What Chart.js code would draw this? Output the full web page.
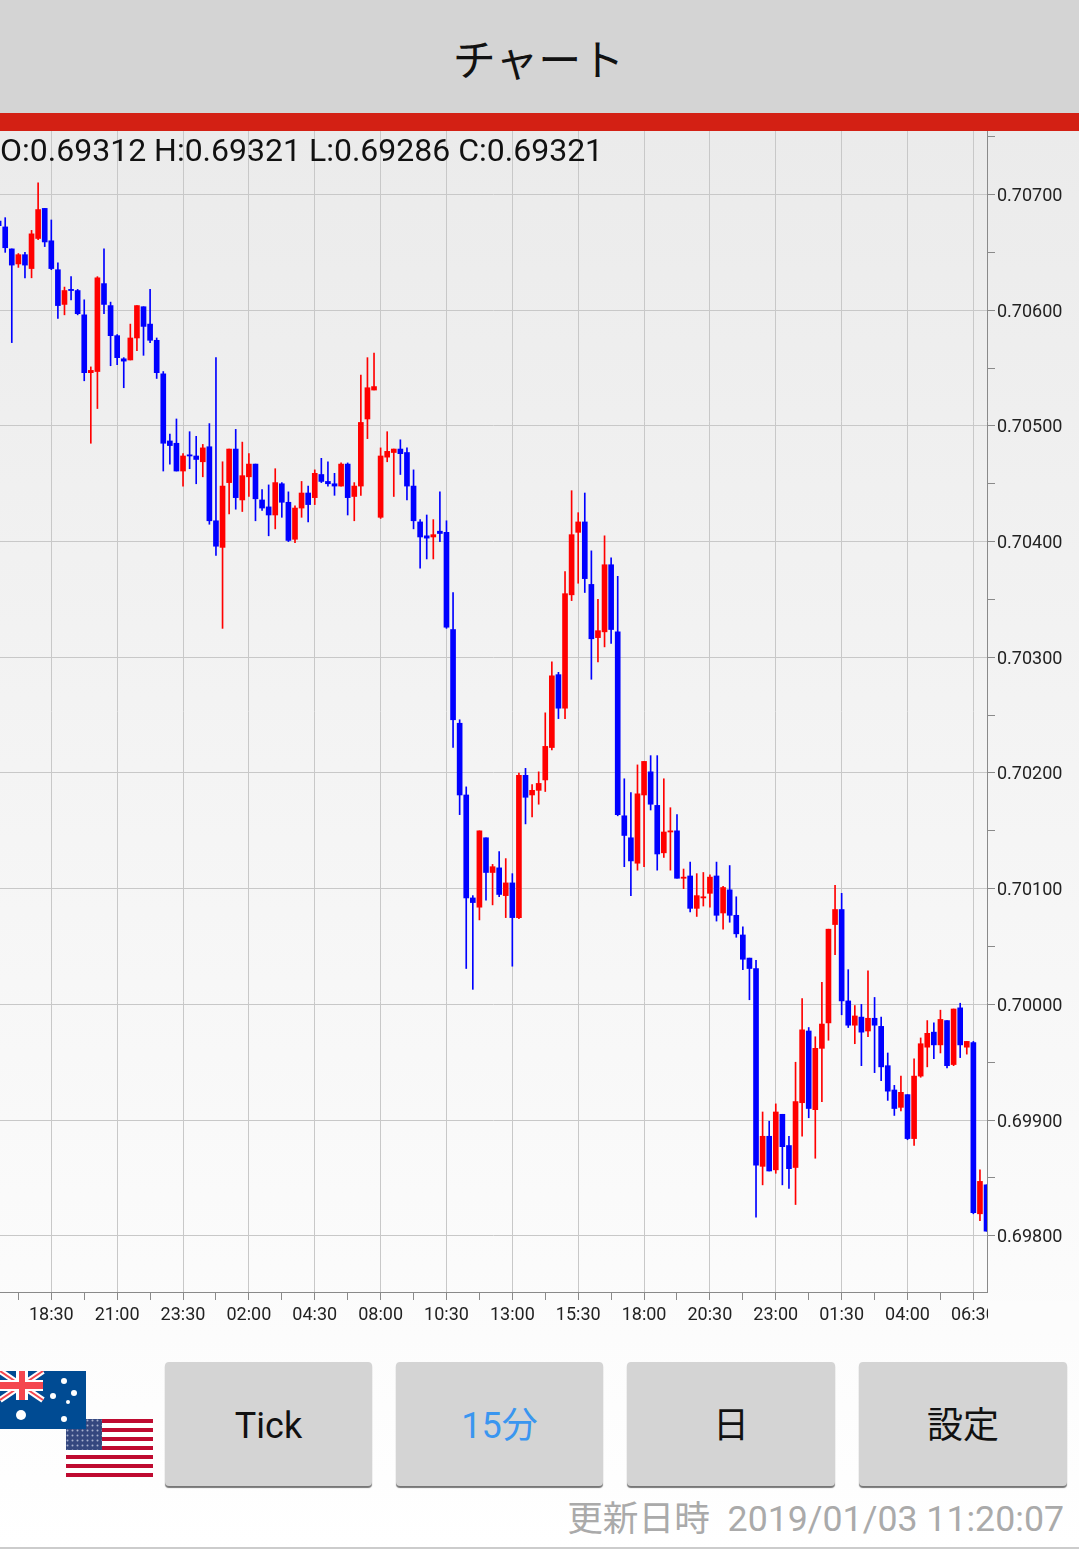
<!DOCTYPE html>
<html lang="ja">
<head>
<meta charset="UTF-8">
<title>チャート</title>
<script src="https://cdn.jsdelivr.net/npm/chart.js"></script>
<style>
  html, body { margin: 0; padding: 0; }
  body {
    position: relative; width: 1079px; height: 1549px; overflow: hidden;
    background: linear-gradient(#ebebeb 131px, #ffffff 1549px);
    font-family: Roboto, "Noto Sans CJK JP", sans-serif; color: #111;
  }
  #title {
    position: absolute; left: 0; top: 0; width: 1077px; height: 113px; line-height: 115px;
    padding-right: 2px; background: #d4d4d4; text-align: center; font-size: 43px;
    font-family: "Noto Sans CJK JP", sans-serif;
  }
  #redbar { position: absolute; left: 0; top: 113px; width: 1079px; height: 18px; background: #d32014; }
  #chartBox { position: absolute; left: 0; top: 131px; width: 1079px; height: 1219px; }
  #ohlc { position: absolute; left: 0; top: 131px; font-size: 32px; line-height: 38px; white-space: nowrap; }
  #clipEdge { position: absolute; left: 988px; top: 1301px; width: 91px; height: 30px; background: #fcfcfc; }
  .btn {
    position: absolute; top: 1362px; height: 124px; line-height: 128px; text-align: center;
    background: #d4d4d4; border-radius: 4px; box-shadow: 0 2px 1px #777; font-size: 36px; color: #111;
  }
  #updated {
    position: absolute; right: 15px; top: 1497px; font-size: 35.7px; line-height: 44px;
    color: #aaa; white-space: pre;
  }
  #bottomLine { position: absolute; left: 0; top: 1547px; width: 1079px; height: 2px; background: #ccc; }
  svg { position: absolute; }
</style>
</head>
<body>
<div id="title">チャート</div>
<div id="redbar"></div>
<div id="chartBox"><canvas id="candles" width="1079" height="1219"></canvas></div>
<div id="ohlc">O:0.69312 H:0.69321 L:0.69286 C:0.69321</div>
<div id="clipEdge"></div>

<!-- flags -->
<svg style="left:66px;top:1419px" width="87" height="58" viewBox="0 0 87 58">
  <defs>
    <pattern id="usStars" width="5" height="5" patternUnits="userSpaceOnUse">
      <rect width="5" height="5" fill="#34477f"/>
      <circle cx="1.5" cy="1.5" r="1" fill="#a9b2cf"/>
    </pattern>
  </defs>
  <rect width="87" height="58" fill="#fff"/>
  <g fill="#bf0a30">
    <rect y="0" width="87" height="4"/><rect y="9" width="87" height="4"/><rect y="18" width="87" height="4"/>
    <rect y="27" width="87" height="4"/><rect y="36" width="87" height="4"/><rect y="45" width="87" height="4"/>
    <rect y="54" width="87" height="4"/>
  </g>
  <rect width="36" height="31" fill="url(#usStars)"/>
</svg>
<svg style="left:0;top:1371px" width="86" height="58" viewBox="0 0 86 58">
  <rect width="86" height="58" fill="#004b93"/>
  <g stroke="#fff" stroke-width="6"><line x1="0" y1="0" x2="43" y2="29"/><line x1="43" y1="0" x2="0" y2="29"/></g>
  <g stroke="#f4474f" stroke-width="2"><line x1="0" y1="0" x2="43" y2="29"/><line x1="43" y1="0" x2="0" y2="29"/></g>
  <rect x="16" y="0" width="12" height="29" fill="#fff"/><rect x="0" y="9" width="43" height="11" fill="#fff"/>
  <rect x="19" y="0" width="6" height="29" fill="#f4474f"/><rect x="0" y="11" width="43" height="7" fill="#f4474f"/>
  <g fill="#fff">
    <circle cx="64" cy="10" r="3"/><circle cx="74" cy="22" r="3"/><circle cx="53" cy="25" r="3"/>
    <circle cx="68" cy="31" r="2"/><circle cx="64" cy="48" r="3"/><circle cx="21" cy="44" r="5"/>
  </g>
</svg>

<div class="btn" style="left:165px;width:207px">Tick</div>
<div class="btn" style="left:396px;width:207px;color:#3a96f0">15分</div>
<div class="btn" style="left:627px;width:208px">日</div>
<div class="btn" style="left:859px;width:208px">設定</div>
<div id="updated">更新日時  2019/01/03 11:20:07</div>
<div id="bottomLine"></div>

<script>
// 15 minute candles, AUD/USD
const highs = [
  0.70677,0.70680,0.70653,0.70649,0.70650,0.70669,0.70710,0.70688,0.70678,0.70641,
  0.70620,0.70629,0.70618,0.70609,0.70551,0.70629,0.70653,0.70607,0.70579,0.70559,
  0.70588,0.70604,0.70603,0.70618,0.70576,0.70547,0.70493,0.70506,0.70476,0.70495,
  0.70491,0.70484,0.70502,0.70559,0.70469,0.70480,0.70497,0.70486,0.70476,0.70467,
  0.70445,0.70449,0.70463,0.70451,0.70443,0.70431,0.70452,0.70448,0.70462,0.70472,
  0.70469,0.70459,0.70468,0.70468,0.70451,0.70544,0.70559,0.70563,0.70481,0.70495,
  0.70480,0.70488,0.70481,0.70462,0.70419,0.70423,0.70419,0.70443,0.70418,0.70356,
  0.70246,0.70188,0.70094,0.70150,0.70144,0.70121,0.70132,0.70126,0.70113,0.70200,
  0.70204,0.70190,0.70201,0.70252,0.70296,0.70287,0.70374,0.70444,0.70425,0.70442,
  0.70392,0.70350,0.70405,0.70386,0.70370,0.70195,0.70183,0.70207,0.70210,0.70215,
  0.70215,0.70195,0.70170,0.70164,0.70117,0.70123,0.70113,0.70114,0.70112,0.70123,
  0.70102,0.70120,0.70093,0.70067,0.70040,0.70038,0.69907,0.69899,0.69914,0.69905,
  0.69886,0.69950,0.70005,0.69980,0.69972,0.70019,0.70065,0.70103,0.70096,0.70030,
  0.69999,0.70000,0.70029,0.70006,0.69989,0.69958,0.69930,0.69938,0.69922,0.69953,
  0.69971,0.69986,0.69984,0.69995,0.69986,0.69996,0.70001,0.69968,0.69968,0.69857,
  0.69844
];
const lows = [
  0.70673,0.70650,0.70572,0.70637,0.70628,0.70628,0.70661,0.70655,0.70635,0.70593,
  0.70596,0.70609,0.70596,0.70539,0.70485,0.70515,0.70597,0.70552,0.70553,0.70533,
  0.70557,0.70565,0.70561,0.70572,0.70541,0.70461,0.70467,0.70461,0.70448,0.70463,
  0.70450,0.70456,0.70415,0.70388,0.70325,0.70424,0.70428,0.70426,0.70439,0.70418,
  0.70427,0.70405,0.70411,0.70421,0.70400,0.70399,0.70421,0.70417,0.70432,0.70451,
  0.70448,0.70440,0.70448,0.70423,0.70418,0.70440,0.70489,0.70531,0.70420,0.70469,
  0.70439,0.70458,0.70436,0.70411,0.70377,0.70385,0.70385,0.70400,0.70325,0.70222,
  0.70164,0.70031,0.70013,0.70073,0.70090,0.70086,0.70093,0.70075,0.70033,0.70074,
  0.70156,0.70162,0.70173,0.70184,0.70220,0.70247,0.70247,0.70349,0.70364,0.70356,
  0.70281,0.70296,0.70309,0.70312,0.70163,0.70119,0.70094,0.70116,0.70119,0.70168,
  0.70116,0.70127,0.70116,0.70109,0.70100,0.70080,0.70076,0.70085,0.70084,0.70072,
  0.70065,0.70071,0.70058,0.70030,0.70004,0.69816,0.69844,0.69856,0.69854,0.69844,
  0.69841,0.69827,0.69886,0.69902,0.69867,0.69916,0.69969,0.70043,0.69991,0.69980,
  0.69966,0.69947,0.69972,0.69941,0.69934,0.69917,0.69904,0.69908,0.69883,0.69878,
  0.69937,0.69946,0.69953,0.69958,0.69945,0.69947,0.69954,0.69957,0.69819,0.69813,
  0.69804
];
const opens = [
  0.70677,0.70672,0.70653,0.70640,0.70648,0.70636,0.70662,0.70688,0.70660,0.70635,
  0.70605,0.70618,0.70617,0.70596,0.70546,0.70547,0.70623,0.70604,0.70578,0.70558,
  0.70557,0.70576,0.70603,0.70588,0.70574,0.70545,0.70487,0.70485,0.70461,0.70475,
  0.70474,0.70469,0.70482,0.70418,0.70395,0.70451,0.70480,0.70436,0.70456,0.70467,
  0.70436,0.70430,0.70423,0.70450,0.70434,0.70402,0.70429,0.70442,0.70438,0.70458,
  0.70452,0.70450,0.70448,0.70467,0.70439,0.70448,0.70506,0.70531,0.70421,0.70473,
  0.70477,0.70480,0.70477,0.70448,0.70417,0.70405,0.70404,0.70409,0.70408,0.70324,
  0.70243,0.70181,0.70092,0.70084,0.70144,0.70114,0.70118,0.70094,0.70105,0.70075,
  0.70198,0.70181,0.70185,0.70194,0.70222,0.70285,0.70256,0.70354,0.70408,0.70417,
  0.70363,0.70317,0.70322,0.70380,0.70322,0.70163,0.70144,0.70122,0.70181,0.70201,
  0.70172,0.70131,0.70149,0.70150,0.70109,0.70111,0.70083,0.70092,0.70096,0.70111,
  0.70079,0.70099,0.70077,0.70060,0.70040,0.70031,0.69860,0.69886,0.69857,0.69905,
  0.69878,0.69859,0.69915,0.69977,0.69909,0.69962,0.69984,0.70069,0.70082,0.70003,
  0.69982,0.69989,0.69977,0.69988,0.69981,0.69947,0.69926,0.69911,0.69922,0.69884,
  0.69938,0.69963,0.69976,0.69965,0.69986,0.69948,0.69997,0.69963,0.69967,0.69819,
  0.69844
];
const closes = [
  0.70673,0.70654,0.70639,0.70648,0.70639,0.70666,0.70687,0.70659,0.70636,0.70604,
  0.70617,0.70617,0.70597,0.70546,0.70548,0.70628,0.70605,0.70578,0.70559,0.70556,
  0.70576,0.70604,0.70586,0.70574,0.70546,0.70485,0.70483,0.70461,0.70474,0.70474,
  0.70471,0.70481,0.70418,0.70396,0.70448,0.70480,0.70438,0.70457,0.70467,0.70437,
  0.70429,0.70423,0.70451,0.70434,0.70401,0.70429,0.70442,0.70432,0.70459,0.70452,
  0.70450,0.70448,0.70467,0.70438,0.70448,0.70503,0.70533,0.70534,0.70474,0.70478,
  0.70480,0.70476,0.70448,0.70418,0.70404,0.70403,0.70406,0.70407,0.70326,0.70246,
  0.70181,0.70092,0.70088,0.70150,0.70114,0.70119,0.70095,0.70105,0.70075,0.70198,
  0.70179,0.70185,0.70191,0.70223,0.70284,0.70256,0.70355,0.70406,0.70417,0.70368,
  0.70316,0.70323,0.70380,0.70324,0.70164,0.70146,0.70124,0.70182,0.70210,0.70173,
  0.70130,0.70149,0.70150,0.70109,0.70110,0.70083,0.70094,0.70093,0.70110,0.70077,
  0.70101,0.70077,0.70061,0.70039,0.70031,0.69861,0.69886,0.69856,0.69907,0.69877,
  0.69858,0.69916,0.69978,0.69910,0.69962,0.69983,0.70065,0.70082,0.70003,0.69982,
  0.69990,0.69976,0.69988,0.69982,0.69946,0.69925,0.69910,0.69924,0.69884,0.69938,
  0.69966,0.69975,0.69965,0.69987,0.69947,0.69996,0.69965,0.69968,0.69820,0.69847,
  0.69804
];

// labelled x ticks sit on a candle index, the in between ones are tick marks only
const timeTickIndex = [8,18,28,38,48,58,68,78,88,98,108,118,128,138,148];
const timeTickLabels = ['18:30','21:00','23:30','02:00','04:30','08:00','10:30','13:00','15:30','18:00','20:30','23:00','01:30','04:00','06:30'];
const timeMinorIndex = [3,13,23,33,43,53,63,73,83,93,103,113,123,133,143];
const priceTicks = [0.698,0.699,0.700,0.701,0.702,0.703,0.704,0.705,0.706,0.707];
const priceMinorTicks = [0.6985,0.6995,0.7005,0.7015,0.7025,0.7035,0.7045,0.7055,0.7065,0.7075];

const wicks = highs.map((h, i) => ({ x: i, y: [lows[i], h] }));
const bodies = opens.map((o, i) => ({ x: i, y: [Math.min(o, closes[i]), Math.max(o, closes[i])] }));
const candleColors = opens.map((o, i) => closes[i] > o ? '#ff0000' : '#0000ff');

const isClose = (a, b) => Math.abs(a - b) < 1e-7;
const gridColor = '#c8c8c8';
const axisColor = '#8a8a8a';

new Chart(document.getElementById('candles'), {
  type: 'bar',
  data: {
    datasets: [
      { data: wicks, backgroundColor: candleColors, barThickness: 1, grouped: false, order: 2, borderWidth: 0 },
      { data: bodies, backgroundColor: candleColors, barThickness: 5, grouped: false, order: 1, borderWidth: 0 }
    ]
  },
  options: {
    responsive: false,
    animation: false,
    events: [],
    layout: { autoPadding: false, padding: 0 },
    plugins: { legend: { display: false }, tooltip: { enabled: false } },
    scales: {
      x: {
        type: 'linear',
        offset: false,
        min: 0.21,
        max: 150.07,
        afterFit: s => { s.height = 58; s.paddingLeft = 0; s.paddingRight = 0; },
        afterBuildTicks: s => {
          s.ticks = timeMinorIndex.concat(timeTickIndex).sort((a, b) => a - b).map(v => ({ value: v }));
        },
        border: { color: axisColor, width: 1 },
        grid: {
          offset: false,
          color: c => c.tick && timeTickIndex.includes(c.tick.value) ? gridColor : 'transparent',
          tickColor: axisColor,
          tickLength: 8,
          lineWidth: 1
        },
        ticks: {
          autoSkip: false,
          maxRotation: 0,
          padding: 5,
          color: '#222',
          font: { family: 'Roboto', size: 18 },
          callback: v => {
            const k = timeTickIndex.indexOf(v);
            return k < 0 ? '' : timeTickLabels[k];
          }
        }
      },
      y: {
        type: 'linear',
        position: 'right',
        min: 0.697514,
        max: 0.707549,
        afterFit: s => { s.width = 92; s.paddingTop = 0; s.paddingBottom = 0; },
        afterBuildTicks: s => {
          s.ticks = priceMinorTicks.concat(priceTicks).sort((a, b) => a - b).map(v => ({ value: v }));
        },
        border: { color: axisColor, width: 1 },
        grid: {
          color: c => c.tick && priceTicks.some(p => isClose(p, c.tick.value)) ? gridColor : 'transparent',
          tickColor: axisColor,
          tickLength: 8,
          lineWidth: 1
        },
        ticks: {
          autoSkip: false,
          padding: 2,
          labelOffset: 2,
          color: '#222',
          font: { family: 'Roboto', size: 18 },
          callback: v => priceTicks.some(p => isClose(p, v)) ? v.toFixed(5) : ''
        }
      }
    }
  }
});
</script>
</body>
</html>
